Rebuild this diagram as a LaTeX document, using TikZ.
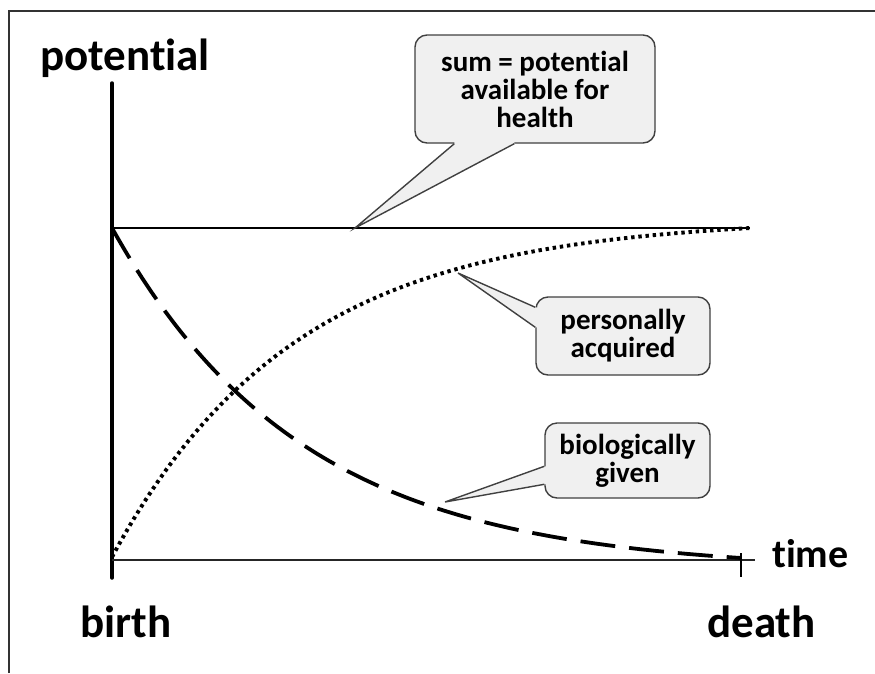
\documentclass[tikz,border=0pt]{standalone}
\usepackage{fontspec}
\setmainfont{Carlito}[Ligatures={NoCommon,NoContextual}]
\begin{document}
\begin{tikzpicture}[x=1pt,y=-1pt,
  frameline/.style={line width=1.6pt, draw=black!80},
  axisline/.style={line width=3.5pt, line cap=round},
  timeaxis/.style={line width=2.2pt, draw=black!85},
  sumline/.style={line width=1.5pt},
  dotcurve/.style={line width=3.9pt, dash pattern=on 3.4pt off 3.8pt},
  dashcurve/.style={line width=3.8pt, dash pattern=on 35pt off 14pt},
  bubble/.style={draw=black!75, fill=black!6, line width=1.4pt, rounded corners=12pt,
    align=center, font=\fontsize{29}{28}\selectfont\bfseries, inner sep=0pt},
  pointerfill/.style={fill=black!6},
  pointeredge/.style={draw=black!75, line width=1.4pt, line join=miter},
  bigtext/.style={font=\fontsize{45}{50}\selectfont\bfseries, inner sep=0pt},
  timetext/.style={font=\fontsize{40}{44}\selectfont\bfseries, inner sep=0pt}
]
\useasboundingbox (0,0) rectangle (875,673);

% outer frame (top and left edges)
\draw[frameline] (9,673) -- (9,11) -- (875,11);

% axes
\coordinate (origin) at (112,560);
\draw[axisline] (112,83) -- (112,578);
\draw[timeaxis] (origin) -- (755,560);
\draw[line width=2.5pt] (741,553) -- (741,577);

% constant sum of both potentials
\draw[sumline] (112,228) -- (750,228);

% personally acquired potential (rising)
\draw[dotcurve] plot[domain=0:1, samples=120, smooth]
  ({112+638*\x}, {557-329*(1-exp(-3.5*\x))/(1-exp(-3.5))});

% biologically given potential (falling)
\draw[dashcurve] plot[domain=0:1, samples=120, smooth]
  ({112+629*\x}, {228+330*(1-exp(-3.3*\x))/(1-exp(-3.3))});

% axis labels
\node[bigtext, anchor=base west] (ylabel) at (40,70) {potential};
\node[bigtext, anchor=base west] (birth) at (80,637) {birth};
\node[bigtext, anchor=base west] (death) at (707,637) {death};
\node[timetext, anchor=base west] (xlabel) at (772,567) {time};

% callout: sum
\node[bubble, minimum width=240pt, minimum height=108pt] (sum) at (535,89)
  {sum = potential\\available for\\health};
\coordinate (sumtip) at (355,228);
\fill[pointerfill] ([xshift=40pt,yshift=1.6pt]sum.south west) -- ([xshift=40pt]sum.south west)
  -- (sumtip) -- ([xshift=100pt]sum.south west) -- ([xshift=100pt,yshift=1.6pt]sum.south west) -- cycle;
\draw[pointeredge] ([xshift=40pt]sum.south west) -- (sumtip) -- ([xshift=100pt]sum.south west);

% callout: personally acquired
\node[bubble, minimum width=174pt, minimum height=78pt] (pers) at (623,336)
  {personally\\acquired};
\coordinate (perstip) at (458,273);
\fill[pointerfill] ([yshift=-11pt,xshift=1.6pt]pers.north west) -- ([yshift=-11pt]pers.north west)
  -- (perstip) -- ([yshift=-31pt]pers.north west) -- ([yshift=-31pt,xshift=1.6pt]pers.north west) -- cycle;
\draw[pointeredge] ([yshift=-11pt]pers.north west) -- (perstip) -- ([yshift=-31pt]pers.north west);

% callout: biologically given
\node[bubble, minimum width=165pt, minimum height=75pt] (bio) at (627.5,460.5)
  {biologically\\given};
\coordinate (biotip) at (445,502);
\fill[pointerfill] ([yshift=-44pt,xshift=1.6pt]bio.north west) -- ([yshift=-44pt]bio.north west)
  -- (biotip) -- ([yshift=-62pt]bio.north west) -- ([yshift=-62pt,xshift=1.6pt]bio.north west) -- cycle;
\draw[pointeredge] ([yshift=-44pt]bio.north west) -- (biotip) -- ([yshift=-62pt]bio.north west);
\end{tikzpicture}
\end{document}
